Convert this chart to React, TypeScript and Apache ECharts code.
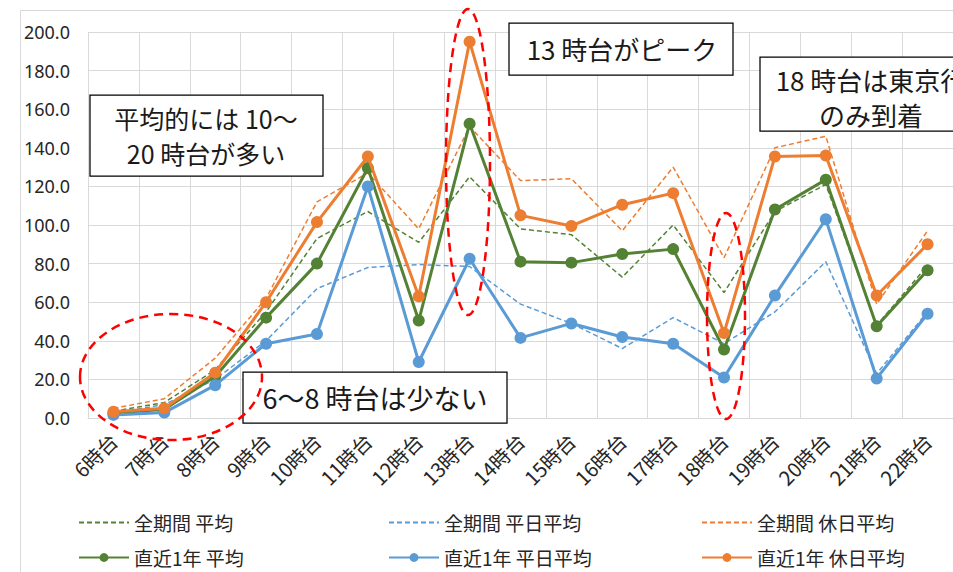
import React, { useEffect, useRef } from "react";
import * as echarts from "echarts";

const categories = ["6時台", "7時台", "8時台", "9時台", "10時台", "11時台", "12時台", "13時台", "14時台", "15時台", "16時台", "17時台", "18時台", "19時台", "20時台", "21時台", "22時台"];
const yTicks = [0, 20, 40, 60, 80, 100, 120, 140, 160, 180, 200];

const allAvg = [3.5, 8, 25, 55, 93, 107, 91, 125, 98, 95, 73, 100, 65, 107, 121, 48, 79];
const allWeekday = [2.5, 7, 20, 40, 67, 78, 79.5, 78.5, 59, 49, 36, 52, 38.5, 55, 81, 23, 55];
const allHoliday = [5, 10, 31, 62, 112, 127, 98, 151, 123, 124, 97, 130, 83, 140, 146, 59, 97];
const recentAvg = [2.5, 4.5, 21.5, 52, 80, 129.5, 50.5, 152.5, 81, 80.5, 85, 87.5, 35.5, 108, 123.5, 47.5, 76.5];
const recentWeekday = [1.6, 2.8, 17, 38.5, 43.5, 120, 29, 82.5, 41.5, 49, 42, 38.5, 21, 63.5, 103, 20.5, 54];
const recentHoliday = [3.3, 5, 23.5, 60, 101.5, 135.5, 63, 195, 105, 99.5, 110.5, 116.5, 44, 135.5, 136, 63.5, 90];

const seriesNames = ["全期間 平均", "全期間 平日平均", "全期間 休日平均", "直近1年 平均", "直近1年 平日平均", "直近1年 休日平均"];
const GREEN = "#548235";
const BLUE = "#5b9bd5";
const ORANGE = "#ed7d31";
const FONT = '"Noto Sans CJK JP", "Noto Sans", sans-serif';

export default function App() {
  const ref = useRef<HTMLDivElement>(null);
  useEffect(() => {
    if (!ref.current) return;
    const chart = echarts.init(ref.current, null, { renderer: "svg" });
    const dashed = (name: string, data: number[], color: string) => ({
      name,
      type: "line",
      data,
      symbol: "none",
      showSymbol: false,
      lineStyle: { color, width: 1.5, type: [5, 3] },
      itemStyle: { color },
      z: 2,
    });
    const solid = (name: string, data: number[], color: string, z: number) => ({
      name,
      type: "line",
      data,
      symbol: "circle",
      symbolSize: 12,
      lineStyle: { color, width: 3 },
      itemStyle: { color },
      z,
    });
    const legendPos = [
      [73, 508], [383, 508], [696, 508],
      [73, 543], [383, 543], [696, 543],
    ];
    const legends = seriesNames.map((n, i) => ({
      data: [
        i < 3
          ? { name: n, itemStyle: { color: "rgba(0,0,0,0)", borderWidth: 0, opacity: 0 } }
          : { name: n },
      ],
      left: legendPos[i][0],
      top: legendPos[i][1],
      itemWidth: 50,
      itemHeight: 11,
      itemGap: 5,
      textStyle: { fontSize: 19, color: "#262626", fontFamily: FONT },
      selectedMode: false,
    }));
    const box = (x: number, y: number, w: number, h: number, tx: number, lines: string[], ys: number[], fontSize: number) => [
      {
        type: "rect",
        shape: { x, y, width: w, height: h },
        style: { fill: "#ffffff", stroke: "#000000", lineWidth: 1.25 },
        z: 100,
        silent: true,
      },
      ...lines.map((t, k) => ({
        type: "text",
        x: tx,
        y: ys[k],
        style: {
          text: t,
          fontSize,
          fontFamily: FONT,
          fill: "#1a1a1a",
          align: "center",
          verticalAlign: "middle",
          textAlign: "center",
          textVerticalAlign: "middle",
        },
        z: 101,
        silent: true,
      })),
    ];
    const ellipse = (cx: number, cy: number, rx: number, ry: number) => ({
      type: "ellipse",
      shape: { cx, cy, rx, ry },
      style: { fill: "none", stroke: "#ff0000", lineWidth: 2.5, lineDash: [9, 6] },
      z: 102,
      silent: true,
    });
    const option = {
      animation: false,
      grid: { left: 88, top: 32, right: 0, bottom: 154, containLabel: false },
      legend: legends,
      xAxis: {
        type: "category",
        data: categories,
        boundaryGap: true,
        axisLine: { show: true, lineStyle: { color: "#d9d9d9" } },
        axisTick: { show: false },
        splitLine: { show: true, interval: 0, lineStyle: { color: "#d9d9d9", width: 1 } },
        axisLabel: { rotate: 45, interval: 0, fontSize: 20, color: "#262626", fontFamily: FONT, margin: 19 },
      },
      yAxis: {
        type: "value",
        min: yTicks[0],
        max: yTicks[yTicks.length - 1],
        interval: 20,
        axisLine: { show: false },
        axisTick: { show: false },
        splitLine: { show: true, lineStyle: { color: "#d9d9d9", width: 1 } },
        axisLabel: { formatter: (v: number) => v.toFixed(1), fontSize: 18, color: "#262626", fontFamily: '"Noto Sans", sans-serif', margin: 18 },
      },
      series: [
        dashed(seriesNames[0], allAvg, GREEN),
        dashed(seriesNames[1], allWeekday, BLUE),
        dashed(seriesNames[2], allHoliday, ORANGE),
        solid(seriesNames[3], recentAvg, GREEN, 3),
        solid(seriesNames[4], recentWeekday, BLUE, 4),
        solid(seriesNames[5], recentHoliday, ORANGE, 5),
      ],
      graphic: {
        elements: [
          {
            type: "rect",
            shape: { x: 20.5, y: 10.5, width: 1000, height: 1000 },
            style: { fill: "none", stroke: "#d9d9d9", lineWidth: 1 },
            z: -1,
            silent: true,
          },
          ...box(90, 95, 233, 81, 206, ["平均的には 10〜", "20 時台が多い"], [118, 153], 25),
          ...box(509, 23, 224, 52, 622, ["13 時台がピーク"], [48], 26),
          ...box(760, 57, 240, 74, 871, ["18 時台は東京行", "のみ到着"], [79, 114], 26),
          ...box(243, 372, 264, 51, 375, ["6〜8 時台は少ない"], [397], 27),
          ellipse(171, 377, 91, 63),
          ellipse(468, 162, 22, 153),
          ellipse(726, 316, 19, 103),
        ],
      },
    };
    chart.setOption(option as any);
    return () => chart.dispose();
  }, []);
  return <div ref={ref} style={{ width: 953, height: 572, position: "absolute", left: 0, top: 0 }} />;
}
